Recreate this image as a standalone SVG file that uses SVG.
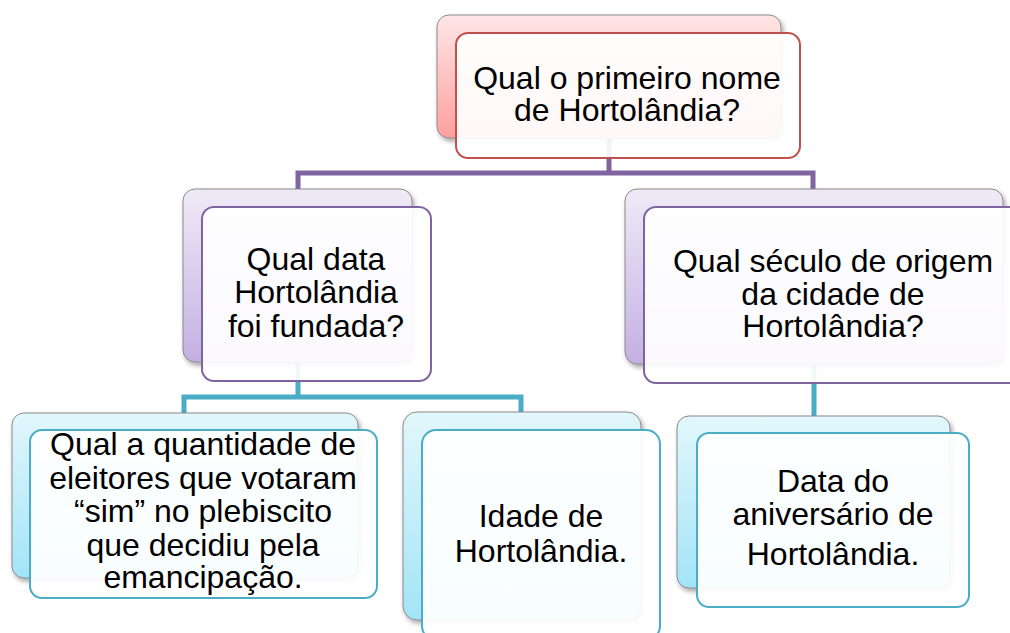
<svg xmlns="http://www.w3.org/2000/svg" width="1010" height="633" viewBox="0 0 1010 633">
<defs>
<linearGradient id="gRed" x1="0" y1="0" x2="0" y2="1"><stop offset="0" stop-color="#FFE6E6"/><stop offset="1" stop-color="#FF9F9F"/></linearGradient>
<linearGradient id="gPur" x1="0" y1="0" x2="0" y2="1"><stop offset="0" stop-color="#EFEAF7"/><stop offset="1" stop-color="#C3B0E2"/></linearGradient>
<linearGradient id="gTeal" x1="0" y1="0" x2="0" y2="1"><stop offset="0" stop-color="#E2F7FC"/><stop offset="1" stop-color="#A3E4F7"/></linearGradient>
<filter id="sh" x="-10%" y="-10%" width="125%" height="130%"><feDropShadow dx="2" dy="3" stdDeviation="2.5" flood-color="#000" flood-opacity="0.35"/></filter>
</defs>
<style>
.back{stroke:#8A8A8A;stroke-width:1;filter:url(#sh)}
.front{fill:#FFFFFF;fill-opacity:0.92;stroke-width:2}
.red{stroke:#C0504D}.pur{stroke:#8064A2}.teal{stroke:#4BACC6}
.conn{fill:none;stroke-width:5}
text{font-family:"Liberation Sans",Arial,sans-serif;font-size:32px;fill:#000;text-anchor:middle}
</style>
<rect width="1010" height="633" fill="#FFFFFF"/>
<g id="connectors">
<path class="conn pur" d="M298,189 V173 H813 V189 M609,138 V173"/>
<path class="conn teal" d="M184,413 V397 H521 V412 M298,362 V397"/>
<path class="conn teal" d="M814,364 V416"/>
</g>
<g id="n-top">
<rect class="back" x="437" y="15" width="344" height="123" rx="12" fill="url(#gRed)"/>
<rect class="front red" x="456" y="33" width="344" height="125" rx="12"/>
<text x="627" y="89">Qual o primeiro nome</text>
<text x="627" y="121">de Hortolândia?</text>
</g>
<g id="n-left">
<rect class="back" x="183" y="189" width="229" height="173" rx="12" fill="url(#gPur)"/>
<rect class="front pur" x="202" y="207" width="229" height="174" rx="12"/>
<text x="316" y="270">Qual data</text>
<text x="316" y="303">Hortolândia</text>
<text x="316" y="337">foi fundada?</text>
</g>
<g id="n-right">
<rect class="back" x="625" y="189" width="378" height="175" rx="12" fill="url(#gPur)"/>
<rect class="front pur" x="644" y="207" width="378" height="176" rx="12"/>
<text x="833" y="272">Qual século de origem</text>
<text x="833" y="305">da cidade de</text>
<text x="833" y="337">Hortolândia?</text>
</g>
<g id="n-bl">
<rect class="back" x="12" y="413" width="346" height="165" rx="12" fill="url(#gTeal)"/>
<rect class="front teal" x="30" y="430" width="347" height="168" rx="12"/>
<text x="203" y="455">Qual a quantidade de</text>
<text x="203" y="489">eleitores que votaram</text>
<text x="203" y="522">“sim” no plebiscito</text>
<text x="203" y="556">que decidiu pela</text>
<text x="203" y="588">emancipação.</text>
</g>
<g id="n-bm">
<rect class="back" x="403" y="412" width="238" height="208" rx="14" fill="url(#gTeal)"/>
<rect class="front teal" x="422" y="430" width="238" height="210" rx="14"/>
<text x="541" y="527">Idade de</text>
<text x="541" y="562">Hortolândia.</text>
</g>
<g id="n-br">
<rect class="back" x="677" y="416" width="273" height="172" rx="12" fill="url(#gTeal)"/>
<rect class="front teal" x="697" y="433" width="272" height="174" rx="12"/>
<text x="833" y="492">Data do</text>
<text x="833" y="525">aniversário de</text>
<text x="833" y="565">Hortolândia.</text>
</g>
</svg>
